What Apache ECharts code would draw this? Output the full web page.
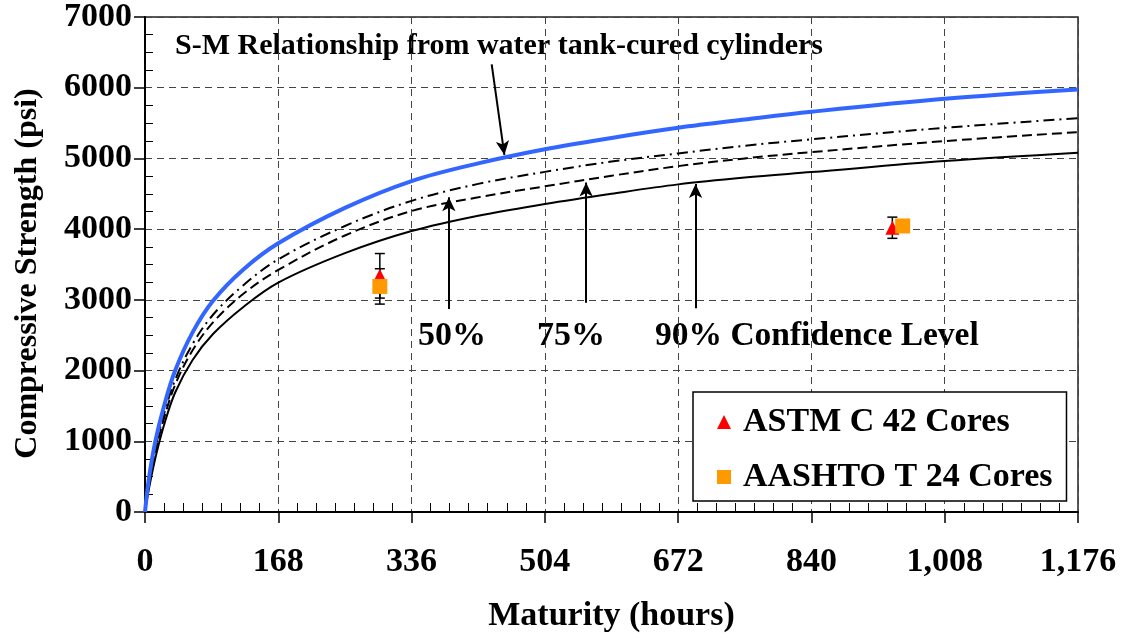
<!DOCTYPE html>
<html>
<head>
<meta charset="utf-8">
<script src="https://cdn.jsdelivr.net/npm/echarts@6/dist/echarts.min.js"></script>
<style>
html,body{margin:0;padding:0;background:#fff;}
#chart{width:1126px;height:638px;}
</style>
</head>
<body>
<div id="chart"></div>
<script>
// ---- data ----
const maturity = [0, 5, 13, 24, 38, 60, 86, 124, 168, 252, 336, 420, 504, 588, 672, 756, 840, 1008, 1176];
const smCurve  = [0, 480, 1000, 1500, 2000, 2540, 2990, 3430, 3800, 4300, 4680, 4930, 5130, 5290, 5433, 5550, 5660, 5843, 5975];
const conf50   = [0, 417, 899, 1387, 1870, 2376, 2793, 3207, 3573, 4045, 4400, 4640, 4810, 4955, 5071, 5180, 5270, 5433, 5569];
const conf75   = [0, 383, 844, 1325, 1799, 2287, 2685, 3086, 3423, 3910, 4256, 4450, 4605, 4755, 4891, 5000, 5089, 5245, 5372];
const conf90   = [0, 330, 760, 1230, 1690, 2150, 2520, 2900, 3244, 3660, 3973, 4190, 4355, 4500, 4633, 4730, 4807, 4962, 5080];

const astmM = [296, 942];
const astmS = [3340, 4020];
const astmErr = [315, 150];
const aashtoM = [296, 955];
const aashtoS = [3190, 4045];
const aashtoErr = [250, 80];

const xTicks = [0, 168, 336, 504, 672, 840, 1008, 1176];
const yTicks = [0, 1000, 2000, 3000, 4000, 5000, 6000, 7000];

// annotation arrows [fromM, fromS, toM, toS]
const arrowSM  = [437, 6330, 453, 5050];
const arrow50  = [383, 2870, 383, 4450];
const arrow75  = [556, 2960, 556, 4660];
const arrow90  = [694, 2880, 694, 4640];

const labelSM = 'S-M Relationship from water tank-cured cylinders';
const label50 = '50%';
const label75 = '75%';
const label90 = '90% Confidence Level';

// ---- build ----
const FONT = 'Liberation Serif';
const zip = (xs, ys) => xs.map((x, i) => [x, ys[i]]);
const errData = (xs, ys, es) => xs.map((x, i) => [x, ys[i], es[i]]);
const arrowLine = a => [{coord: [a[0], a[1]]}, {coord: [a[2], a[3]]}];

function errRender(params, api) {
  const x = api.value(0), y = api.value(1), e = api.value(2);
  const top = api.coord([x, y + e]);
  const bot = api.coord([x, y - e]);
  const cw = 5;
  const st = {stroke: '#000', lineWidth: 1.5};
  return {
    type: 'group',
    children: [
      {type: 'line', shape: {x1: top[0], y1: top[1], x2: bot[0], y2: bot[1]}, style: st},
      {type: 'line', shape: {x1: top[0] - cw, y1: top[1], x2: top[0] + cw, y2: top[1]}, style: st},
      {type: 'line', shape: {x1: bot[0] - cw, y1: bot[1], x2: bot[0] + cw, y2: bot[1]}, style: st}
    ]
  };
}

const chart = echarts.init(document.getElementById('chart'), null, {renderer: 'canvas'});
const gridDash = {color: '#444', width: 1, type: [7, 5]};
const curveCommon = {type: 'line', showSymbol: false, smooth: 0.35, z: 3};

chart.setOption({
  animation: false,
  backgroundColor: '#fff',
  grid: {left: 145, right: 48, top: 17, bottom: 125, show: true, borderColor: '#222', borderWidth: 1.5, backgroundColor: 'transparent'},
  xAxis: {
    type: 'value', min: xTicks[0], max: xTicks[xTicks.length - 1], interval: 168,
    name: 'Maturity (hours)', nameLocation: 'middle', nameGap: 87,
    nameTextStyle: {fontFamily: FONT, fontWeight: 'bold', fontSize: 34, color: '#000'},
    axisLine: {show: true, onZero: false, lineStyle: {color: '#000', width: 2}},
    axisTick: {show: true, length: 11, lineStyle: {color: '#000', width: 1.5}},
    minorTick: {show: true, splitNumber: 7, length: -9, lineStyle: {color: '#000', width: 1}},
    axisLabel: {margin: 33, fontFamily: FONT, fontWeight: 'bold', fontSize: 34, color: '#000',
      formatter: v => v.toLocaleString('en-US')},
    splitLine: {show: true, lineStyle: gridDash}
  },
  yAxis: {
    type: 'value', min: yTicks[0], max: yTicks[yTicks.length - 1], interval: 1000,
    name: 'Compressive Strength (psi)', nameLocation: 'middle', nameGap: 101, nameRotate: 90,
    nameTextStyle: {fontFamily: FONT, fontWeight: 'bold', fontSize: 32, color: '#000', padding: [0, 18, 0, 0]},
    axisLine: {show: true, onZero: false, lineStyle: {color: '#000', width: 2}},
    axisTick: {show: true, length: 11, lineStyle: {color: '#000', width: 1.5}},
    minorTick: {show: true, splitNumber: 4, length: -8, lineStyle: {color: '#000', width: 1}},
    axisLabel: {margin: 13, fontFamily: FONT, fontWeight: 'bold', fontSize: 34, color: '#000',
      formatter: v => String(v)},
    splitLine: {show: true, lineStyle: gridDash}
  },
  legend: {
    left: 693, top: 392, orient: 'vertical',
    backgroundColor: '#fff', borderColor: '#000', borderWidth: 1.5,
    padding: [13, 14, 7, 24], itemGap: 21, itemWidth: 14, itemHeight: 14,
    textStyle: {fontFamily: FONT, fontWeight: 'bold', fontSize: 34, color: '#000', padding: [0, 0, 0, 7]},
    data: [{name: 'ASTM C 42 Cores', icon: 'triangle'}, {name: 'AASHTO T 24 Cores', icon: 'rect'}]
  },
  graphic: [
    {type: 'text', left: 175, top: 31, style: {text: labelSM, font: 'bold 30px "Liberation Serif"', fill: '#000'}},
    {type: 'text', left: 418, top: 319, style: {text: label50, font: 'bold 34px "Liberation Serif"', fill: '#000'}},
    {type: 'text', left: 537, top: 319, style: {text: label75, font: 'bold 34px "Liberation Serif"', fill: '#000'}},
    {type: 'text', left: 655, top: 319, style: {text: label90, font: 'bold 33.5px "Liberation Serif"', fill: '#000'}}
  ],
  series: [
    Object.assign({name: '90%', data: zip(maturity, conf90), lineStyle: {color: '#000', width: 2}}, curveCommon),
    Object.assign({name: '75%', data: zip(maturity, conf75), lineStyle: {color: '#000', width: 2, type: [10, 5]}}, curveCommon),
    Object.assign({name: '50%', data: zip(maturity, conf50), lineStyle: {color: '#000', width: 2, type: [11, 5, 2, 5]}}, curveCommon),
    Object.assign({name: 'S-M', data: zip(maturity, smCurve), lineStyle: {color: '#3366FF', width: 4},
      markLine: {silent: true, symbol: ['none', 'arrow'], symbolSize: [10, 14], label: {show: false},
        lineStyle: {color: '#000', width: 2, type: 'solid'},
        data: [arrowLine(arrowSM), arrowLine(arrow50), arrowLine(arrow75), arrowLine(arrow90)]}}, curveCommon, {z: 4}),
    {name: 'astmErr', type: 'custom', renderItem: errRender, data: errData(astmM, astmS, astmErr), z: 5},
    {name: 'aashtoErr', type: 'custom', renderItem: errRender, data: errData(aashtoM, aashtoS, aashtoErr), z: 5},
    {name: 'ASTM C 42 Cores', type: 'scatter', symbol: 'triangle', symbolSize: 14, data: zip(astmM, astmS), z: 6,
      itemStyle: {color: '#FF0000', opacity: 1}},
    {name: 'AASHTO T 24 Cores', type: 'scatter', symbol: 'rect', symbolSize: 15, data: zip(aashtoM, aashtoS), z: 7,
      itemStyle: {color: '#FF9900', opacity: 1}}
  ]
});
</script>
</body>
</html>
